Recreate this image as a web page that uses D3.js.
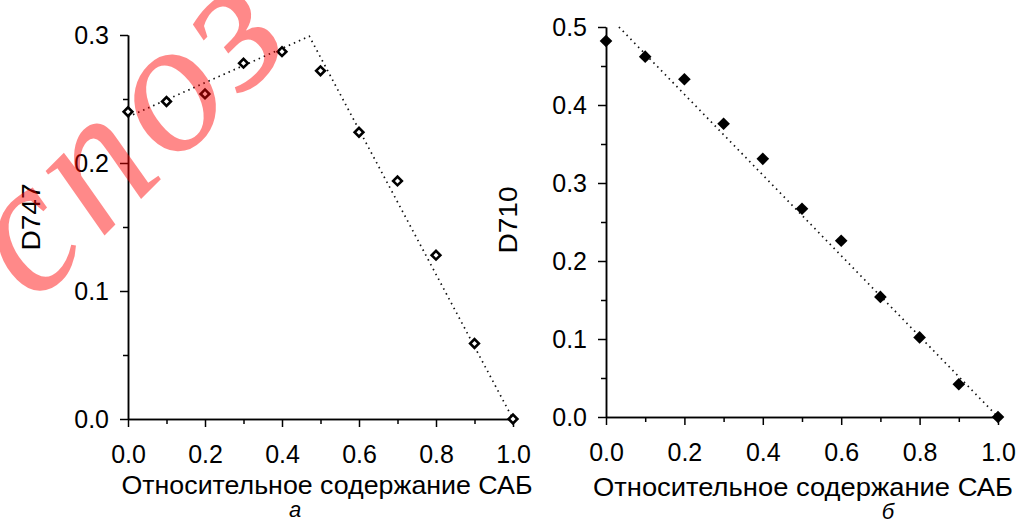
<!DOCTYPE html>
<html>
<head>
<meta charset="utf-8">
<script src="https://cdn.jsdelivr.net/npm/d3@7"></script>
<style>
  body { margin: 0; background: #fff; }
  svg { display: block; font-family: "Liberation Sans", Arial, sans-serif; }
</style>
</head>
<body>
<svg width="1019" height="523"></svg>
<script>
// относительное содержание САБ
const conc = [0, 0.1, 0.2, 0.3, 0.4, 0.5, 0.6, 0.7, 0.8, 0.9, 1.0];
const d747 = [0.240, 0.248, 0.254, 0.278, 0.287, 0.272, 0.224, 0.186, 0.128, 0.059, 0.0];
const d710 = [0.482, 0.462, 0.433, 0.376, 0.331, 0.267, 0.226, 0.154, 0.102, 0.042, 0.0];

// пунктирные линии
const fit747X = [0, 0.471, 1.0];
const fit747Y = [0.236, 0.299, 0.0];
const fit710X = [0.033, 1.0];
const fit710Y = [0.5, 0.0];

const xMajor = [0, 0.2, 0.4, 0.6, 0.8, 1.0];
const xMinor = [0.1, 0.3, 0.5, 0.7, 0.9];
const y747Major = [0, 0.1, 0.2, 0.3];
const y747Minor = [0.05, 0.15, 0.25];
const y710Major = [0, 0.1, 0.2, 0.3, 0.4, 0.5];
const y710Minor = [0.05, 0.15, 0.25, 0.35, 0.45];

const xTitle = 'Относительное содержание САБ';

const svg = d3.select('svg');
const fmt = d3.format('.1f');

function panel(opt) {
  const x = d3.scaleLinear().domain([0, 1]).range(opt.xr);
  const y = d3.scaleLinear().domain([0, opt.ymax]).range(opt.yr);
  const g = svg.append('g');

  // оси
  const axes = g.append('g');
  axes.append('g').attr('transform', `translate(0,${opt.yr[0]})`)
    .call(d3.axisBottom(x).tickValues(xMinor).tickSize(5).tickSizeOuter(0).tickFormat(''));
  axes.append('g').attr('transform', `translate(0,${opt.yr[0]})`)
    .call(d3.axisBottom(x).tickValues(xMajor).tickSize(8).tickSizeOuter(0).tickPadding(18).tickFormat(fmt));
  axes.append('g').attr('transform', `translate(${opt.xr[0]},0)`)
    .call(d3.axisLeft(y).tickValues(opt.yMinor).tickSize(5).tickSizeOuter(0).tickFormat(''));
  axes.append('g').attr('transform', `translate(${opt.xr[0]},0)`)
    .call(d3.axisLeft(y).tickValues(opt.yMajor).tickSize(8).tickSizeOuter(0).tickPadding(11).tickFormat(fmt));
  axes.selectAll('g').attr('font-size', 25).attr('font-family', null);
  axes.selectAll('path, line').attr('stroke', '#000').attr('stroke-width', 1.5);
  axes.selectAll('text').attr('fill', '#000');

  // пунктир
  const line = d3.line().x(d => x(d[0])).y(d => y(d[1]));
  g.append('path')
    .datum(d3.zip(opt.fitX, opt.fitY))
    .attr('d', line)
    .attr('fill', 'none')
    .attr('stroke', '#111')
    .attr('stroke-width', 1.7)
    .attr('stroke-dasharray', '1.5,4');

  // маркеры
  g.selectAll('.pt')
    .data(d3.zip(conc, opt.vals))
    .join('path')
    .attr('class', 'pt')
    .attr('transform', d => `translate(${x(d[0])},${y(d[1])}) rotate(45)`)
    .attr('d', d3.symbol(d3.symbolSquare, opt.open ? 38 : 80))
    .attr('fill', opt.open ? '#fff' : '#000')
    .attr('stroke', '#000')
    .attr('stroke-width', opt.open ? 2.6 : 0);

  // подписи
  g.append('text')
    .attr('x', opt.titleX).attr('y', opt.titleY)
    .attr('text-anchor', 'middle')
    .attr('font-size', 25)
    .attr('textLength', opt.titleW).attr('lengthAdjust', 'spacingAndGlyphs')
    .text(xTitle);
  g.append('text')
    .attr('transform', `translate(${opt.yTitleX},${opt.yTitleY}) rotate(-90)`)
    .attr('text-anchor', 'middle')
    .attr('font-size', 25)
    .attr('textLength', 67).attr('lengthAdjust', 'spacingAndGlyphs')
    .text(opt.yLabel);
  g.append('text')
    .attr('x', opt.letterX).attr('y', opt.letterY)
    .attr('text-anchor', 'middle')
    .attr('font-size', 22)
    .attr('font-style', 'italic')
    .text(opt.letter);
}

panel({
  xr: [128, 513], yr: [419, 35], ymax: 0.3,
  yMajor: y747Major, yMinor: y747Minor,
  vals: d747, fitX: fit747X, fitY: fit747Y, open: true,
  titleX: 327, titleY: 494, titleW: 411,
  yTitleX: 40, yTitleY: 217, yLabel: 'D747',
  letterX: 295, letterY: 517, letter: 'а'
});

panel({
  xr: [606, 998], yr: [417, 27], ymax: 0.5,
  yMajor: y710Major, yMinor: y710Minor,
  vals: d710, fitX: fit710X, fitY: fit710Y, open: false,
  titleX: 803, titleY: 496, titleW: 420,
  yTitleX: 517, yTitleY: 220, yLabel: 'D710',
  letterX: 888, letterY: 519, letter: 'б'
});

// водяной знак
svg.append('text')
  .attr('transform', 'translate(168,172) rotate(-45)')
  .attr('text-anchor', 'middle')
  .attr('font-family', '"Liberation Serif", "DejaVu Serif", serif')
  .attr('font-style', 'italic')
  .attr('font-size', 190)
  .attr('letter-spacing', 8)
  .attr('fill', '#ff0000')
  .attr('opacity', 0.46)
  .text('споз');
</script>
</body>
</html>
